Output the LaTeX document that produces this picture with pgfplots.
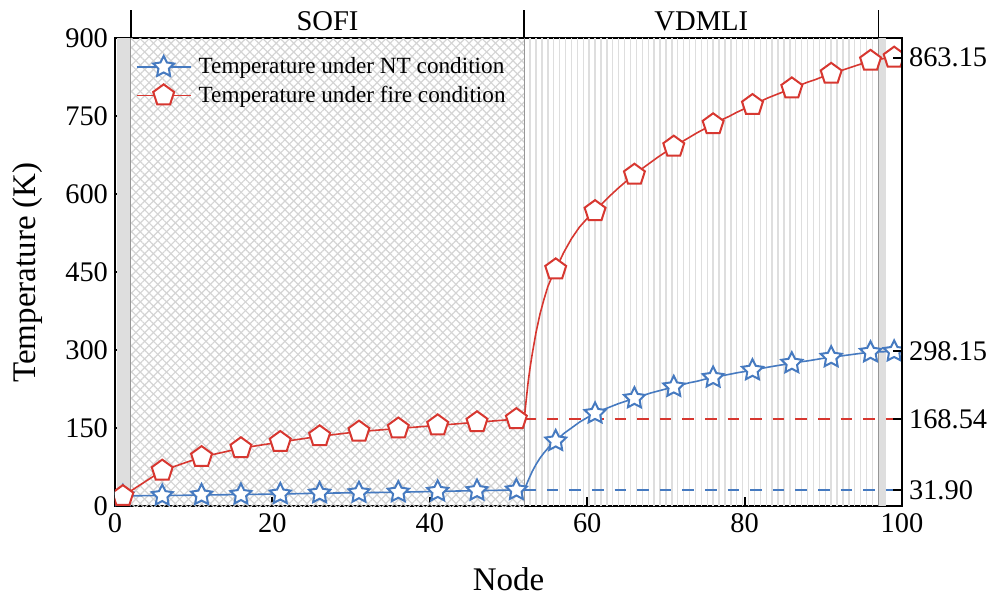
\documentclass[border=0pt]{standalone}
\usepackage{fontspec}
\setmainfont{Liberation Serif}
\usepackage{pgfplots}
\pgfplotsset{compat=1.18}
\usetikzlibrary{patterns.meta,plotmarks}
\definecolor{cblue}{RGB}{70,122,192}
\definecolor{cred}{RGB}{215,55,48}
\definecolor{hatch}{RGB}{212,212,212}
\definecolor{vline}{RGB}{222,222,222}
\definecolor{band}{RGB}{222,222,222}
\definecolor{edge}{RGB}{150,150,150}

\pgfdeclareplotmark{ostar}{%
 \pgfpathmoveto{\pgfpointpolar{90}{\pgfplotmarksize}}%
 \pgfpathlineto{\pgfpointpolar{126}{0.5\pgfplotmarksize}}%
 \pgfpathlineto{\pgfpointpolar{162}{\pgfplotmarksize}}%
 \pgfpathlineto{\pgfpointpolar{198}{0.5\pgfplotmarksize}}%
 \pgfpathlineto{\pgfpointpolar{234}{\pgfplotmarksize}}%
 \pgfpathlineto{\pgfpointpolar{270}{0.5\pgfplotmarksize}}%
 \pgfpathlineto{\pgfpointpolar{306}{\pgfplotmarksize}}%
 \pgfpathlineto{\pgfpointpolar{342}{0.5\pgfplotmarksize}}%
 \pgfpathlineto{\pgfpointpolar{18}{\pgfplotmarksize}}%
 \pgfpathlineto{\pgfpointpolar{54}{0.5\pgfplotmarksize}}%
 \pgfpathclose
 \pgfusepathqfillstroke
}

\begin{document}
\begin{tikzpicture}
\begin{axis}[
  name=ax,
  scale only axis,
  width=393.5pt, height=234pt,
  xmin=0, xmax=100, ymin=0, ymax=900,
  xtick={0,20,...,100}, ytick={0,150,...,900},
  tick pos=left, tick align=inside,
  major tick length=4.5pt,
  axis line style={line width=1pt},
  every tick/.style={black, line width=1pt},
  /pgf/number format/assume math mode=true,
  tick label style={font=\fontsize{14.2}{17}\selectfont},
  xlabel={Node}, ylabel={Temperature (K)},
  label style={font=\fontsize{16.5}{19}\selectfont},
  xlabel style={at={(axis description cs:0.5,-0.1795)}, anchor=base},
  ylabel style={at={(axis description cs:-0.1105,0.5)}, anchor=center},
  clip marker paths=true,
  legend style={draw=none, fill=none, font=\fontsize{11.6}{14}\selectfont,
    at={(axis description cs:0.026,0.969)}, anchor=north west,
    row sep=0.6pt, column sep=1.6pt, inner sep=0pt},
  legend cell align=left,
  legend image code/.code={\draw[mark repeat=2,mark phase=2] plot coordinates {(0pt,0pt) (13.5pt,0pt) (27pt,0pt)};},
]
% background regions
\fill[band] (axis cs:0.25,0) rectangle (axis cs:2,900);
\fill[pattern={Lines[angle=45,distance=3.1pt,line width=0.6pt]}, pattern color=hatch] (axis cs:2,0) rectangle (axis cs:52,900);
\fill[pattern={Lines[angle=-45,distance=3.1pt,line width=0.6pt]}, pattern color=hatch] (axis cs:2,0) rectangle (axis cs:52,900);
\pgfplotsinvokeforeach{52.75,53.5,...,96.3}{\draw[vline, line width=0.7pt] (axis cs:#1,0) -- (axis cs:#1,900);}
\fill[band] (axis cs:97,0) rectangle (axis cs:98,900);
\draw[edge, line width=0.7pt] (axis cs:2,0) -- (axis cs:2,900);
\draw[edge, line width=0.7pt] (axis cs:52,0) -- (axis cs:52,900);
\draw[edge, line width=0.9pt] (axis cs:97,0) -- (axis cs:97,900);

\addlegendimage{cblue, line width=0.8pt, mark=ostar, mark size=5.5pt, mark options={fill=white, line width=1pt, solid}}
\addlegendentry{Temperature under NT condition}
\addlegendimage{cred, line width=0.8pt, mark=pentagon*, mark size=5.5pt, mark options={fill=white, line width=1pt, solid}}
\addlegendentry{Temperature under fire condition}

% dashed reference lines
\addplot[forget plot, cred, line width=0.9pt, dash pattern=on 5.8pt off 5.5pt] coordinates {(52,168.54) (100,168.54)};
\addplot[forget plot, cblue, line width=0.9pt, dash pattern=on 5.8pt off 5.5pt] coordinates {(52,31.90) (100,31.90)};

% NT curve
\addplot[forget plot, cblue, line width=0.8pt] coordinates {
(1,20.5) (6,21) (11,22) (16,23) (21,24) (26,25.5) (31,26.5) (36,27.5) (41,29) (46,30.5) (51,31.7) (52,31.9)
(52.5,50) (53,67) (53.5,81) (54,93) (54.5,103) (55,112) (55.5,119.5) (56,126) (57,140) (58,151) (59,162) (60,171)
(61,179) (62,186) (63,192) (64,198) (65,203) (66,208) (67,213) (68,218) (69,222) (70,226) (71,230) (72,234)
(73,238) (74,241) (75,245) (76,248) (77,251) (78,254) (79,257) (80,259.5) (81,262) (82,265) (83,268) (84,270.5)
(85,273) (86,275.5) (87,278) (88,280) (89,282.5) (90,285) (91,287) (92,289) (93,291) (94,293) (95,295) (96,296.5)
(97,297.3) (98,297.8) (99,298.15) (100,298.15)};
% fire curve
\addplot[forget plot, cred, line width=0.8pt] coordinates {
(1,20) (6,69) (11,95) (16,112) (21,124) (26,135) (31,144) (36,150) (41,156) (46,162) (51,168) (52,168.54)
(52.25,205) (52.5,240) (52.75,268) (53,292) (53.5,335) (54,370) (54.5,398) (55,423) (55.5,441) (56,456)
(57,488) (58,515) (59,537) (60,554) (61,568) (62,584) (63,599) (64,613) (65,626) (66,638) (67,650) (68,661)
(69,672) (70,682) (71,692) (72,701) (73,710) (74,719) (75,727) (76,735) (77,743) (78,750) (79,758) (80,765)
(81,772) (82,779) (83,786) (84,792) (85,798) (86,804) (87,810) (88,816) (89,821) (90,827) (91,832) (92,837)
(93,842) (94,847) (95,852) (96,857) (97,860) (98,862) (99,863.15) (100,863.15)};

% markers
\addplot[forget plot, only marks, mark=ostar, mark size=5.5pt, mark options={draw=cblue, fill=white, line width=1pt}] coordinates {
(1,20.5) (6,21) (11,22) (16,23) (21,24) (26,25.5) (31,26.5) (36,27.5) (41,29) (46,30.5) (51,31.7)
(56,126) (61,179) (66,208) (71,230) (76,248) (81,262) (86,275.5) (91,287) (96,296.5) (99,298.15)};
\addplot[forget plot, only marks, mark=pentagon*, mark size=5.5pt, mark options={draw=cred, fill=white, line width=1pt}] coordinates {
(1,20) (6,69) (11,95) (16,112) (21,124) (26,135) (31,144) (36,150) (41,156) (46,162) (51,168)
(56,456) (61,568) (66,638) (71,692) (76,735) (81,772) (86,804) (91,832) (96,857) (99,863.15)};
\end{axis}

\begin{axis}[
  scale only axis,
  width=393.5pt, height=234pt,
  xmin=0, xmax=100, ymin=0, ymax=900,
  axis x line=none,
  axis y line*=right,
  axis line style={line width=1pt},
  every tick/.style={black, line width=1pt},
  tick align=inside, major tick length=4.5pt,
  ytick={31.90,168.54,298.15,863.15},
  yticklabels={31.90,168.54,298.15,863.15},
  tick label style={font=\fontsize{14.2}{17}\selectfont},
  clip=false,
]
\draw[line width=0.8pt] (axis cs:2,900) -- ++(0pt,14.25pt);
\draw[line width=0.8pt] (axis cs:52,900) -- ++(0pt,14.25pt);
\draw[line width=0.8pt] (axis cs:97,900) -- ++(0pt,14.25pt);
\node[font=\fontsize{14.3}{17}\selectfont, anchor=base] at ([yshift=3.9pt]axis cs:27,900) {SOFI};
\node[font=\fontsize{14.3}{17}\selectfont, anchor=base] at ([yshift=3.9pt]axis cs:74.5,900) {VDMLI};
\end{axis}

\pgfresetboundingbox
\path ([xshift=-57.5pt,yshift=-46.75pt]ax.south west) rectangle ([xshift=48.5pt,yshift=19.25pt]ax.north east);
\end{tikzpicture}
\end{document}
